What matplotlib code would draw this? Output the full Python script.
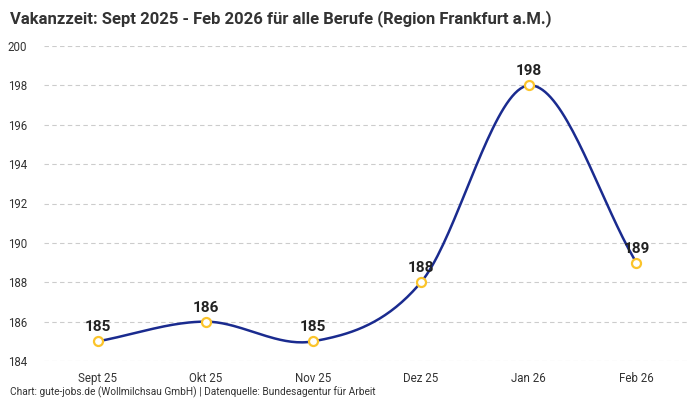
import matplotlib
matplotlib.use("Agg")
import matplotlib.pyplot as plt
import numpy as np

months = ["Sept 25", "Okt 25", "Nov 25", "Dez 25", "Jan 26", "Feb 26"]
values = [185, 186, 185, 188, 198, 189]
yticks = [184, 186, 188, 190, 192, 194, 196, 198, 200]

title = "Vakanzzeit: Sept 2025 - Feb 2026 für alle Berufe (Region Frankfurt a.M.)"
footer = "Chart: gute-jobs.de (Wollmilchsau GmbH) | Datenquelle: Bundesagentur für Arbeit"

plt.rcParams['font.family'] = ['Roboto', 'DejaVu Sans']

def smooth(x, y, n=40):
    # cardinal spline through the points, just for the drawn curve
    x = np.asarray(x, float)
    y = np.asarray(y, float)
    m = np.zeros_like(y)
    m[1:-1] = (y[2:] - y[:-2]) / (x[2:] - x[:-2])
    m[0] = (y[1] - y[0]) / (x[1] - x[0])
    m[-1] = (y[-1] - y[-2]) / (x[-1] - x[-2])
    xs, ys = [], []
    for i in range(len(x) - 1):
        h = x[i + 1] - x[i]
        t = np.linspace(0, 1, n)
        h00 = 2*t**3 - 3*t**2 + 1
        h10 = t**3 - 2*t**2 + t
        h01 = -2*t**3 + 3*t**2
        h11 = t**3 - t**2
        xs.append(x[i] + t*h)
        ys.append(h00*y[i] + h10*h*m[i] + h01*y[i+1] + h11*h*m[i+1])
    return np.concatenate(xs), np.concatenate(ys)

fig = plt.figure(figsize=(7, 4), dpi=100)
ax = fig.add_axes([0.063, 0.0975, 0.923, 0.7875])

pos = np.arange(len(months))
sx, sy = smooth(pos, values)
ax.plot(sx, sy, color='#1a2b8f', linewidth=1.8, zorder=2)
ax.plot(pos, values, 'o', markersize=6.5, markerfacecolor='white',
        markeredgecolor='#fbc42b', markeredgewidth=1.6, zorder=3)

for p, v in zip(pos, values):
    ax.annotate(str(v), (p, v), xytext=(0, 5), textcoords='offset points',
                ha='center', va='bottom', fontsize=11, fontweight='semibold', color='#222222')

ax.set_xlim(-0.5, len(months) - 0.5)
ax.set_ylim(184, 200)
ax.set_yticks(yticks)
ax.set_xticks(pos)
ax.set_xticklabels(months)
ax.grid(axis='y', linestyle=(0, (4, 3)), color='#cccccc', linewidth=0.8)
ax.set_axisbelow(True)
for s in ax.spines.values():
    s.set_visible(False)
ax.tick_params(length=0, labelsize=8.3, colors='#333333', pad=8)
ax.tick_params(axis='y', pad=12)

fig.text(0.014, 0.975, title, fontsize=12, fontweight='bold', color='#333333', ha='left', va='top')
fig.text(0.014, 0.005, footer, fontsize=7.3, color='#333333', ha='left', va='bottom')

fig.savefig('out.png', dpi=100)
